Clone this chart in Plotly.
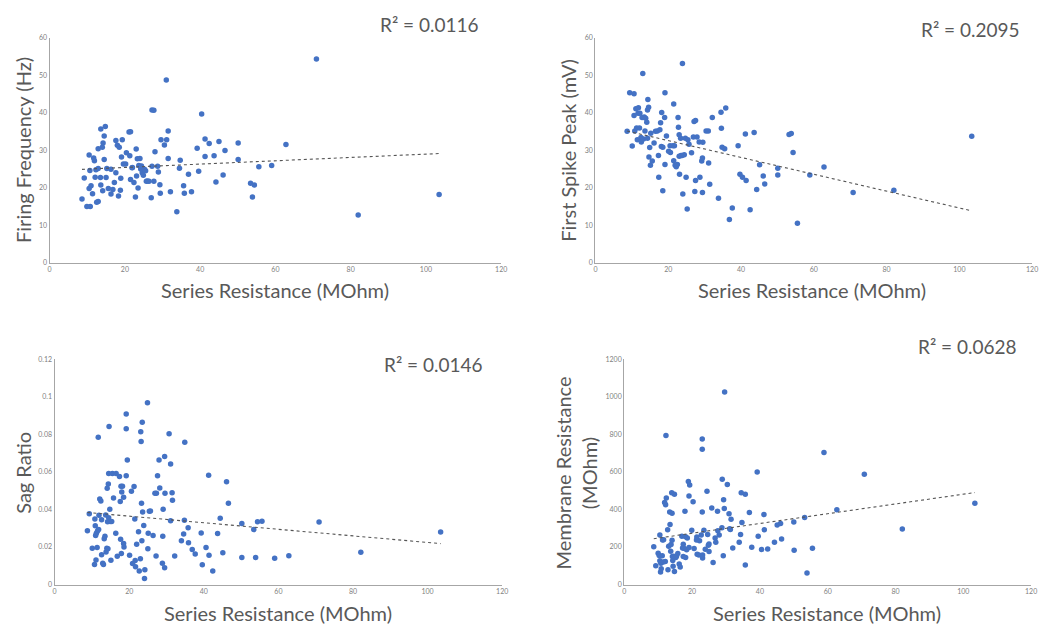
import numpy as np
import plotly.graph_objects as go

# ---------------- data ----------------
ff_x = [8.6, 9.2, 9.9, 10.8, 10.5, 10.7, 10.5, 11.0, 11.4, 11.7, 12.1, 12.5, 12.9, 12.9, 12.9, 13.6, 14.0, 14.2,
        14.5, 14.8, 13.5, 13.6, 14.1, 14.5, 15.0, 15.2, 15.6, 16.3, 16.3, 17.2, 17.6, 17.6, 18.0, 18.5, 18.3, 18.9,
        19.1, 19.3, 19.6, 20.2, 20.4, 21.1, 21.5, 21.3, 21.5, 21.9, 22.4, 22.8, 23.0, 23.3, 23.5, 23.1, 23.7, 24.0,
        24.2, 24.6, 24.9, 25.2, 25.7, 26.4, 27.0, 27.2, 27.2, 27.7, 27.7, 28.0, 28.7, 28.9, 29.3, 29.4, 29.6, 30.5,
        31.0, 31.1, 31.5, 31.5, 32.1, 33.8, 34.7, 34.5, 35.6, 35.8, 36.9, 37.7, 39.2, 39.6, 40.4, 41.3, 41.3, 42.4,
        43.7, 44.2, 45.0, 46.1, 46.6, 50.1, 50.1, 53.4, 53.9, 54.4, 55.6, 59.0, 62.8, 70.9, 82.0, 103.5,
        11.9, 12.3, 16.8, 22.0, 25.5, 26.0, 24.4, 18.8]
ff_y = [17.0, 22.6, 15.0, 15.0, 28.7, 24.6, 19.8, 20.5, 18.4, 27.9, 22.8, 16.1, 16.3, 25.1, 30.4, 35.6, 30.8, 31.9,
        33.8, 36.3, 22.7, 20.7, 19.2, 27.5, 22.7, 25.1, 19.8, 24.9, 18.3, 21.4, 24.0, 32.6, 31.3, 30.8, 17.8, 22.5,
        28.2, 32.8, 26.3, 26.3, 29.3, 34.8, 34.9, 28.5, 22.2, 25.3, 21.4, 17.5, 30.3, 27.7, 19.9, 23.1, 25.9, 27.8,
        25.0, 24.0, 23.3, 24.9, 21.7, 21.7, 17.3, 25.7, 40.7, 40.6, 21.7, 29.6, 25.7, 24.2, 20.8, 18.5, 32.8, 31.4,
        48.7, 32.8, 35.1, 27.8, 18.9, 13.6, 27.3, 25.2, 20.5, 18.5, 23.6, 18.9, 30.5, 24.4, 39.6, 33.0, 28.3, 31.8,
        28.5, 21.5, 32.3, 23.4, 29.9, 31.9, 27.5, 21.2, 17.5, 20.7, 25.6, 25.9, 31.5, 54.3, 12.7, 18.2,
        27.2, 24.8, 19.5, 25.4, 24.5, 21.8, 25.8, 19.3]

fsp_x = [8.7, 9.4, 10.1, 10.6, 10.6, 10.8, 11.1, 11.3, 11.5, 11.7, 11.8, 12.1, 12.2, 12.5, 12.6, 12.8, 13.0, 13.2,
         13.4, 13.6, 13.8, 14.1, 14.3, 14.4, 14.3, 14.6, 14.7, 14.9, 15.1, 15.2, 15.6, 16.1, 16.5, 17.0, 17.3, 17.4,
         17.7, 17.9, 18.1, 18.2, 18.5, 18.5, 19.0, 19.1, 19.1, 19.5, 20.1, 20.5, 20.6, 21.3, 21.5, 21.5, 21.7, 21.9,
         22.2, 22.5, 22.7, 22.8, 23.0, 23.0, 23.1, 23.4, 23.5, 23.8, 23.9, 24.0, 24.4, 24.7, 24.9, 25.2, 25.4, 25.7,
         26.4, 26.9, 27.1, 27.5, 27.5, 27.3, 27.9, 28.5, 28.7, 29.2, 29.4, 29.5, 29.4, 30.4, 31.0, 31.1, 31.4, 32.1,
         33.8, 34.5, 34.6, 34.8, 35.5, 35.8, 36.8, 37.6, 39.2, 39.7, 40.4, 41.2, 41.4, 42.5, 43.6, 44.3, 45.1, 46.1,
         46.5, 50.1, 50.1, 53.2, 53.8, 54.3, 55.5, 58.9, 62.8, 70.8, 82.0, 103.4]
fsp_y = [35.0, 45.3, 31.1, 45.0, 39.2, 35.1, 41.0, 35.9, 32.8, 39.8, 41.3, 35.9, 39.8, 33.4, 32.2, 38.7, 50.4, 33.0,
         38.8, 35.1, 38.5, 37.4, 40.7, 43.5, 33.2, 41.4, 28.2, 30.7, 26.0, 34.5, 27.1, 31.9, 35.0, 35.1, 28.6, 22.8,
         35.4, 37.3, 31.0, 40.0, 19.2, 30.8, 38.7, 26.2, 45.3, 33.8, 29.7, 31.2, 29.4, 31.2, 42.3, 27.2, 31.2, 26.0,
         25.6, 26.2, 38.7, 36.1, 34.1, 28.4, 23.6, 33.2, 28.6, 28.6, 53.1, 18.3, 28.8, 33.2, 22.8, 14.3, 32.8, 31.6,
         29.3, 33.5, 37.6, 37.9, 21.9, 19.0, 33.5, 32.2, 22.8, 27.1, 27.9, 32.1, 18.7, 35.1, 35.1, 26.6, 20.9, 38.7,
         17.2, 40.1, 35.8, 30.8, 30.4, 41.2, 11.5, 14.6, 31.2, 23.6, 22.8, 34.3, 21.9, 14.1, 34.7, 19.5, 26.1, 23.1,
         21.0, 25.2, 23.4, 34.2, 34.4, 29.4, 10.5, 23.4, 25.5, 18.7, 19.3, 33.7]

sag_x = [8.8, 9.3, 10.1, 10.7, 10.8, 10.9, 11.0, 11.1, 11.2, 11.4, 11.5, 11.7, 11.8, 11.9, 12.1, 12.4, 12.6, 12.6,
         12.9, 13.1, 13.3, 13.5, 13.7, 13.8, 14.0, 14.1, 14.2, 14.3, 14.4, 14.5, 14.5, 14.6, 14.8, 14.9, 15.1, 15.3,
         15.5, 15.8, 16.4, 16.5, 16.8, 17.4, 17.6, 17.7, 17.8, 17.9, 18.0, 18.2, 18.5, 18.5, 18.6, 19.2, 19.2, 19.2,
         19.5, 20.1, 20.6, 20.9, 21.3, 21.5, 21.6, 21.7, 22.0, 22.5, 22.7, 23.0, 23.1, 23.2, 23.3, 23.4, 23.5, 23.6,
         23.9, 24.1, 24.2, 24.9, 25.0, 25.1, 25.4, 25.7, 26.4, 26.9, 27.2, 27.3, 27.6, 28.0, 28.2, 28.9, 29.0, 29.1,
         29.5, 29.5, 29.6, 30.7, 31.1, 31.1, 31.5, 31.6, 32.2, 34.0, 34.6, 34.8, 34.9, 35.8, 35.9, 36.9, 37.7, 39.3,
         39.6, 40.6, 41.3, 41.4, 42.4, 43.7, 44.4, 45.1, 46.1, 46.6, 50.2, 50.2, 53.4, 53.9, 54.4, 55.6, 59.0, 62.8,
         70.9, 82.1, 103.5]
sag_y = [0.0287, 0.0378, 0.0193, 0.0107, 0.0349, 0.0314, 0.0261, 0.0131, 0.0273, 0.0198, 0.0286, 0.0785, 0.0293,
         0.0370, 0.0456, 0.0445, 0.0345, 0.0159, 0.0114, 0.0107, 0.0244, 0.0258, 0.0371, 0.0173, 0.0193, 0.0513,
         0.0335, 0.0191, 0.0536, 0.0356, 0.0592, 0.0843, 0.0401, 0.0336, 0.0130, 0.0336, 0.0592, 0.0461, 0.0273,
         0.0592, 0.0151, 0.0576, 0.0443, 0.0242, 0.0524, 0.0166, 0.0494, 0.0524, 0.0219, 0.0466, 0.0200, 0.0909,
         0.0830, 0.0580, 0.0664, 0.0156, 0.0498, 0.0112, 0.0522, 0.0349, 0.0128, 0.0095, 0.0215, 0.0282, 0.0072,
         0.0138, 0.0815, 0.0762, 0.0434, 0.0233, 0.0865, 0.0387, 0.0315, 0.0032, 0.0079, 0.0969, 0.0191, 0.0273,
         0.0391, 0.0392, 0.0261, 0.0487, 0.0152, 0.0487, 0.0580, 0.0664, 0.0515, 0.0114, 0.0258, 0.0401, 0.0089,
         0.0682, 0.0487, 0.0804, 0.0643, 0.0340, 0.0489, 0.0450, 0.0152, 0.0233, 0.0270, 0.0343, 0.0759, 0.0303,
         0.0223, 0.0187, 0.0163, 0.0275, 0.0105, 0.0198, 0.0583, 0.0156, 0.0072, 0.0272, 0.0354, 0.0170, 0.0548,
         0.0433, 0.0326, 0.0144, 0.0293, 0.0144, 0.0335, 0.0338, 0.0140, 0.0154, 0.0333, 0.0172, 0.0280]

mr_x = [8.7, 9.3, 10.0, 10.3, 10.5, 10.5, 10.7, 10.8, 10.9, 11.2, 11.3, 11.5, 11.6, 11.9, 12.1, 12.2, 12.3, 12.4,
        12.8, 12.9, 13.1, 13.4, 13.5, 13.7, 13.8, 14.0, 14.1, 14.1, 14.2, 14.3, 14.4, 14.6, 14.8, 14.8, 15.2, 15.4,
        15.8, 16.2, 16.5, 17.0, 17.2, 17.4, 17.4, 17.6, 17.9, 18.1, 18.1, 18.4, 18.6, 18.9, 19.1, 19.1, 19.3, 19.9,
        20.3, 20.6, 21.3, 21.4, 21.5, 22.0, 22.2, 22.7, 23.0, 23.0, 23.0, 23.1, 23.1, 23.5, 23.9, 24.4, 24.6, 24.8,
        25.0, 25.0, 25.8, 26.2, 26.8, 27.0, 27.5, 27.6, 28.0, 28.8, 28.9, 29.2, 29.3, 29.5, 29.6, 30.4, 30.9, 31.1,
        31.3, 31.5, 32.0, 33.9, 34.3, 34.5, 34.7, 35.7, 35.7, 36.9, 37.6, 39.2, 39.5, 40.5, 41.2, 41.3, 42.3, 44.3,
        45.1, 46.1, 46.4, 50.0, 50.1, 53.2, 53.9, 55.5, 58.9, 62.7, 70.8, 82.0, 103.4]
mr_y = [202, 100, 167, 155, 264, 127, 67, 114, 84, 153, 238, 120, 239, 438, 123, 426, 794, 461,
        292, 79, 204, 387, 320, 178, 213, 489, 380, 236, 150, 128, 97, 151, 482, 69, 144, 151,
        165, 109, 93, 257, 195, 215, 150, 194, 391, 255, 144, 185, 248, 549, 472, 197, 531, 290,
        442, 192, 238, 253, 162, 158, 234, 264, 776, 721, 387, 157, 141, 289, 188, 498, 267, 209,
        216, 176, 408, 118, 248, 225, 391, 287, 264, 303, 561, 153, 452, 405, 1026, 533, 378, 297,
        294, 348, 195, 225, 267, 489, 331, 482, 104, 384, 199, 600, 257, 187, 373, 292, 190, 225,
        318, 326, 243, 333, 183, 357, 62, 194, 704, 399, 588, 296, 433]

r2_labels = ["R² = 0.0116", "R² = 0.2095", "R² = 0.0146", "R² = 0.0628"]
y_titles = ["Firing Frequency (Hz)", "First Spike Peak (mV)", "Sag Ratio", "Membrane Resistance<br>(MOhm)"]
x_title = "Series Resistance (MOhm)"
x_ticks = [0, 20, 40, 60, 80, 100, 120]
y_ticks = [[0, 10, 20, 30, 40, 50, 60], [0, 10, 20, 30, 40, 50, 60],
           [0, 0.02, 0.04, 0.06, 0.08, 0.1, 0.12], [0, 200, 400, 600, 800, 1000, 1200]]
y_tick_text = [["0", "10", "20", "30", "40", "50", "60"], ["0", "10", "20", "30", "40", "50", "60"],
               ["0", "0.02", "0.04", "0.06", "0.08", "0.1", "0.12"],
               ["0", "200", "400", "600", "800", "1000", "1200"]]

# ---------------- layout geometry ----------------
W, H = 1057, 630
panels = [
    dict(x=ff_x, y=ff_y, px=(48, 503), py=(33, 261), r2=(431, 20), yt=(21, 147), xt=(275, 289)),
    dict(x=fsp_x, y=fsp_y, px=(598, 1038), py=(33, 261), r2=(976, 25), yt=(570, 147), xt=(816, 289)),
    dict(x=sag_x, y=sag_y, px=(53, 504), py=(359, 587), r2=(435, 364), yt=(21, 474), xt=(278, 616)),
    dict(x=mr_x, y=mr_y, px=(627, 1037), py=(359, 587), r2=(973, 346), yt=(578, 474), xt=(831, 616)),
]

FONT = "Lato, 'Open Sans', sans-serif"
TXT = "#595959"
BLUE = "#4472C4"

fig = go.Figure()
annotations = []
for i, p in enumerate(panels):
    n = "" if i == 0 else str(i + 1)
    xa, ya = "x" + n, "y" + n
    xs = np.array(p["x"], dtype=float)
    ys = np.array(p["y"], dtype=float)
    fig.add_trace(go.Scatter(x=xs, y=ys, mode="markers", xaxis=xa, yaxis=ya,
                             marker=dict(color=BLUE, size=5.5), showlegend=False))
    slope, icpt = np.polyfit(xs, ys, 1)
    lx = np.array([xs.min(), xs.max()])
    fig.add_trace(go.Scatter(x=lx, y=slope * lx + icpt, mode="lines", xaxis=xa, yaxis=ya,
                             line=dict(color="#555555", width=1.1, dash="dot"), showlegend=False))
    yt = y_ticks[i]
    fig.update_layout(**{
        "xaxis" + n: dict(domain=[p["px"][0] / W, p["px"][1] / W], range=[0, 120],
                          tickvals=x_ticks, showgrid=False, zeroline=False,
                          showline=True, linecolor="#a6a6a6", linewidth=1.3,
                          tickfont=dict(size=7, color="#7f7f7f", family=FONT),
                          anchor=ya, ticks=""),
        "yaxis" + n: dict(domain=[1 - p["py"][1] / H, 1 - p["py"][0] / H], range=[yt[0], yt[-1]],
                          tickvals=yt, ticktext=y_tick_text[i], showgrid=False, zeroline=False,
                          showline=True, linecolor="#a6a6a6", linewidth=1.3,
                          tickfont=dict(size=7, color="#7f7f7f", family=FONT),
                          anchor=xa, ticks=""),
    })
    annotations.append(dict(text=r2_labels[i], x=p["r2"][0] / W, y=1 - p["r2"][1] / H, xref="paper",
                            yref="paper", showarrow=False, xanchor="center", yanchor="middle",
                            font=dict(size=19, color=TXT, family=FONT)))
    annotations.append(dict(text=y_titles[i], x=p["yt"][0] / W, y=1 - p["yt"][1] / H, xref="paper",
                            yref="paper", showarrow=False, xanchor="center", yanchor="middle",
                            textangle=-90, font=dict(size=20, color=TXT, family=FONT)))
    annotations.append(dict(text=x_title, x=p["xt"][0] / W, y=1 - p["xt"][1] / H, xref="paper",
                            yref="paper", showarrow=False, xanchor="center", yanchor="middle",
                            font=dict(size=20, color=TXT, family=FONT)))

fig.update_layout(width=W, height=H, margin=dict(l=0, r=0, t=0, b=0),
                  paper_bgcolor="white", plot_bgcolor="white", annotations=annotations,
                  font=dict(family=FONT))
fig.write_html("out.html")
